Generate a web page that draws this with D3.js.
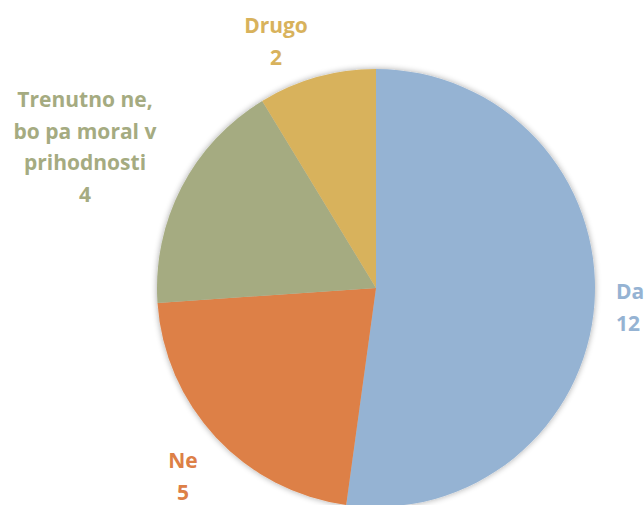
<!DOCTYPE html>
<html><head><meta charset="utf-8">
<script src="https://cdn.jsdelivr.net/npm/d3@7"></script>
<style>html,body{margin:0;padding:0;background:#fff;overflow:hidden}</style>
</head><body>
<svg id="c" width="644" height="505"></svg>
<script>
const categories = ["Da", "Ne", "Trenutno ne, bo pa moral v prihodnosti", "Drugo"];
const values = [12, 5, 4, 2];
const colors = ["#95B3D3", "#DD8047", "#A5AB81", "#D8B25C"];
const labelLines = [["Da", "12"], ["Ne", "5"], ["Trenutno ne,", "bo pa moral v", "prihodnosti", "4"], ["Drugo", "2"]];
const labelPos = [[616, 292, "start"], [183, 461, "middle"], [85, 100, "middle"], [276, 26, "middle"]];

const svg = d3.select("#c");
const cx = 376, cy = 288, r = 219;
const defs = svg.append("defs");
const f = defs.append("filter").attr("id", "sh").attr("x", "-20%").attr("y", "-20%").attr("width", "140%").attr("height", "140%");
f.append("feGaussianBlur").attr("in", "SourceAlpha").attr("stdDeviation", 3);
f.append("feOffset").attr("dx", 0).attr("dy", 0).attr("result", "b");
f.append("feComponentTransfer").append("feFuncA").attr("type", "linear").attr("slope", 0.35);
const m = f.append("feMerge");
m.append("feMergeNode");
m.append("feMergeNode").attr("in", "SourceGraphic");

const pie = d3.pie().sort(null).value(d => d)(values);
const arc = d3.arc().innerRadius(0).outerRadius(r);
const g = svg.append("g").attr("transform", `translate(${cx},${cy})`).attr("filter", "url(#sh)");
g.selectAll("path").data(pie).join("path").attr("d", arc).attr("fill", (d, i) => colors[i]);

labelLines.forEach((lines, i) => {
  const [x, y, anchor] = labelPos[i];
  const t = svg.append("text").attr("text-anchor", anchor)
    .attr("font-family", "'Open Sans', sans-serif").attr("font-weight", "bold")
    .attr("font-size", 21).attr("fill", colors[i]);
  lines.forEach((s, k) => {
    t.append("tspan").attr("x", x).attr("y", y + k * 31.5).attr("dy", "0.35em").text(s);
  });
});
</script>
</body></html>
